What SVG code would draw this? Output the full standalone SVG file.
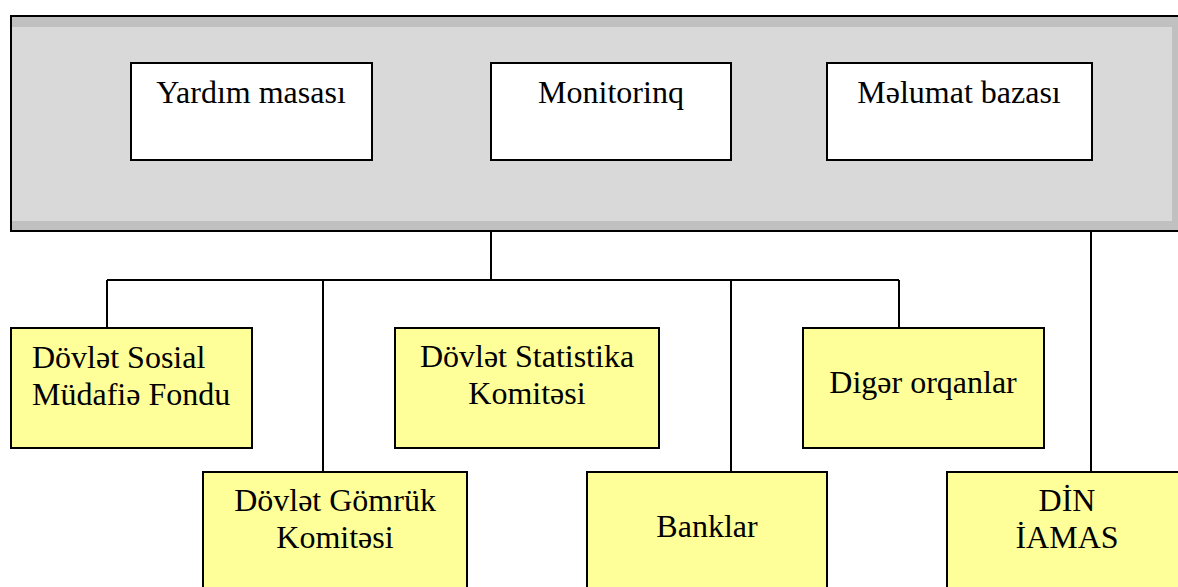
<svg xmlns="http://www.w3.org/2000/svg" width="1178" height="587" viewBox="0 0 1178 587">
  <style>
    text { font-family: "Liberation Serif", "Times New Roman", serif; font-size: 32px; fill: #000; }
    .mid { text-anchor: middle; }
    .top { fill: #ffffff; stroke: #000; stroke-width: 2; }
    .org { fill: #ffff99; stroke: #000; stroke-width: 2; }
    .wire { fill: none; stroke: #000; stroke-width: 2; }
  </style>
  <rect width="1178" height="587" fill="#ffffff"/>

  <!-- shared service panel -->
  <g id="panel">
    <rect x="11" y="16" width="1180" height="215" fill="#c0c0c0" stroke="#000" stroke-width="2"/>
    <rect x="12" y="27" width="1160" height="194" fill="#d9d9d9"/>
  </g>

  <g id="yardim">
    <rect class="top" x="131" y="63" width="241" height="97"/>
    <text class="mid" x="251" y="103">Yardım masası</text>
  </g>
  <g id="monitoring">
    <rect class="top" x="491" y="63" width="240" height="97"/>
    <text class="mid" x="611" y="103">Monitorinq</text>
  </g>
  <g id="melumat">
    <rect class="top" x="827" y="63" width="265" height="97"/>
    <text class="mid" x="959" y="103">Məlumat bazası</text>
  </g>

  <!-- connectors -->
  <g id="connectors">
    <path class="wire" d="M491 231 V280"/>
    <path class="wire" d="M107 280 H899"/>
    <path class="wire" d="M107 280 V328"/>
    <path class="wire" d="M323 280 V472"/>
    <path class="wire" d="M731 280 V472"/>
    <path class="wire" d="M899 280 V328"/>
    <path class="wire" d="M1091 231 V472"/>
  </g>

  <g id="sosial">
    <rect class="org" x="11" y="328" width="241" height="120"/>
    <text x="32" y="368">Dövlət Sosial</text>
    <text x="32" y="405">Müdafiə Fondu</text>
  </g>
  <g id="statistika">
    <rect class="org" x="395" y="328" width="264" height="120"/>
    <text class="mid" x="527" y="367">Dövlət Statistika</text>
    <text class="mid" x="527" y="404">Komitəsi</text>
  </g>
  <g id="diger">
    <rect class="org" x="803" y="328" width="241" height="120"/>
    <text class="mid" x="923" y="393">Digər orqanlar</text>
  </g>
  <g id="gomruk">
    <rect class="org" x="203" y="472" width="264" height="140"/>
    <text class="mid" x="335" y="511">Dövlət Gömrük</text>
    <text class="mid" x="335" y="548">Komitəsi</text>
  </g>
  <g id="banklar">
    <rect class="org" x="587" y="472" width="240" height="140"/>
    <text class="mid" x="707" y="537">Banklar</text>
  </g>
  <g id="din">
    <rect class="org" x="947" y="472" width="240" height="140"/>
    <text class="mid" x="1067" y="511">DİN</text>
    <text class="mid" x="1067" y="548">İAMAS</text>
  </g>
</svg>
